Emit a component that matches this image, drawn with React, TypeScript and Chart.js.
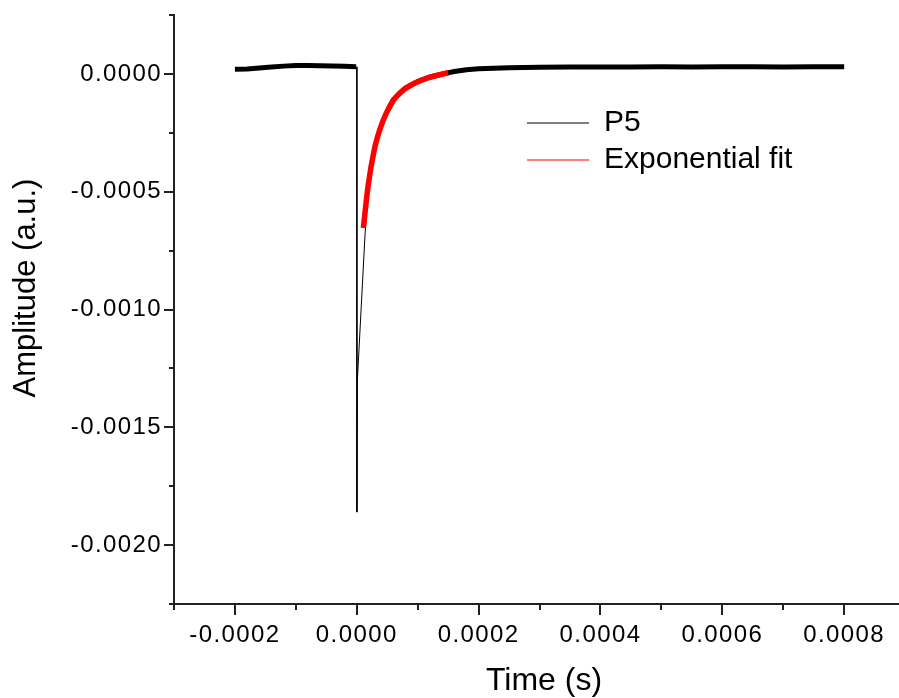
import React, { useEffect, useRef } from 'react';
import { Chart, registerables } from 'chart.js';

Chart.register(...registerables);

// ---- data ----
const seriesNames = ['P5', 'Exponential fit'];

const pTime = [
  -0.0002, -0.00018, -0.00016, -0.00014, -0.00012, -0.0001, -0.00008, -0.00006, -0.00004, -0.00002,
  -0.000001, 0.0, 0.0000002, 0.000001, 0.0000136, 0.00002, 0.00003, 0.00004, 0.00005, 0.00006,
  0.00008, 0.0001, 0.00012, 0.00014, 0.00016, 0.00018, 0.0002, 0.00025, 0.0003, 0.00035,
  0.0004, 0.00045, 0.0005, 0.00055, 0.0006, 0.00065, 0.0007, 0.00075, 0.0008,
];
const pAmp = [
  0.00002, 0.000021, 0.000025, 0.000029, 0.000033, 0.000036, 0.000036, 0.000035, 0.000034, 0.000032,
  0.00003, 0.00003, -0.00186, -0.0013, -0.00068, -0.00045, -0.00031, -0.00022, -0.00016, -0.00011,
  -0.00006, -0.000032, -0.000013, -0.000001, 0.00001, 0.000018, 0.000022, 0.000026, 0.000028, 0.000029,
  0.000029, 0.000029, 0.00003, 0.000029, 0.00003, 0.00003, 0.000029, 0.00003, 0.00003,
];

const fitTime = [
  0.0000108, 0.0000186, 0.0000284, 0.0000383, 0.0000481, 0.0000596, 0.0000711, 0.0000875,
  0.000104, 0.000124, 0.00015,
];
const fitAmp = [
  -0.000654, -0.000475, -0.000326, -0.000233, -0.000169, -0.000114, -0.00008, -0.00005,
  -0.000029, -0.000012, 0.000005,
];

const xTickValues = [-0.0003, -0.0002, -0.0001, 0, 0.0001, 0.0002, 0.0003, 0.0004, 0.0005, 0.0006, 0.0007, 0.0008];
const xTickLabels = ['', '-0.0002', '', '0.0000', '', '0.0002', '', '0.0004', '', '0.0006', '', '0.0008'];
const yTickValues = [-0.00225, -0.002, -0.00175, -0.0015, -0.00125, -0.001, -0.00075, -0.0005, -0.00025, 0, 0.00025];
const yTickLabels = ['', '-0.0020', '', '-0.0015', '', '-0.0010', '', '-0.0005', '', '0.0000', ''];

const xTitle = 'Time (s)';
const yTitle = 'Amplitude (a.u.)';

const FONT = '"Liberation Sans", Arial, Helvetica, sans-serif';

export default function App() {
  const ref = useRef<HTMLCanvasElement>(null);

  useEffect(() => {
    document.body.style.margin = '0';
    const canvas = ref.current;
    if (!canvas) return;

    const originAxes = {
      id: 'originAxes',
      beforeDraw(chart: any) {
        chart.ctx.letterSpacing = '0px';
      },
      afterLayout(chart: any) {
        const lg = chart.legend;
        if (lg) {
          const w = lg.width;
          const h = lg.height;
          lg.left = chart.chartArea.left + 346;
          lg.top = chart.chartArea.top + 86;
          lg.right = lg.left + w;
          lg.bottom = lg.top + h;
        }
      },
      afterDatasetsDraw(chart: any) {
        chart.ctx.letterSpacing = '1.4px';
      },
      afterDraw(chart: any) {
        const ctx = chart.ctx;
        ctx.letterSpacing = '0px';
        ctx.save();
        const xs = chart.scales.x;
        const ys = chart.scales.y;
        const area = chart.chartArea;
        ctx.strokeStyle = '#222';
        ctx.lineWidth = 2;
        ctx.beginPath();
        xTickValues.forEach((v, i) => {
          const px = Math.round(xs.getPixelForValue(v));
          const len = xTickLabels[i] ? 11 : 6;
          ctx.moveTo(px, area.bottom);
          ctx.lineTo(px, area.bottom + len);
        });
        yTickValues.forEach((v, i) => {
          const py = Math.round(ys.getPixelForValue(v));
          const len = yTickLabels[i] ? 10 : 5;
          ctx.moveTo(area.left, py);
          ctx.lineTo(area.left - len, py);
        });
        ctx.stroke();

        ctx.fillStyle = '#000';
        ctx.textAlign = 'center';
        ctx.textBaseline = 'alphabetic';
        ctx.font = `32px ${FONT}`;
        ctx.fillText(xTitle, 544, 690);
        ctx.translate(35, 288);
        ctx.rotate(-Math.PI / 2);
        ctx.font = `31px ${FONT}`;
        ctx.fillText(yTitle, 0, 0);
        ctx.restore();
      },
    };

    const chart = new Chart(canvas, {
      type: 'line',
      data: {
        datasets: [
          {
            label: seriesNames[0],
            data: pTime.map((t, i) => ({ x: t, y: pAmp[i] })),
            borderColor: '#000',
            backgroundColor: '#000',
            borderWidth: 5,
            pointRadius: 0,
            order: 1,
            segment: {
              borderWidth: (c: any) => {
                const dx = Math.abs(c.p1.x - c.p0.x);
                const dy = Math.abs(c.p1.y - c.p0.y);
                return dy > 2 * dx ? 1 : 5;
              },
            },
          } as any,
          {
            label: seriesNames[1],
            data: fitTime.map((t, i) => ({ x: t, y: fitAmp[i] })),
            borderColor: '#ff0000',
            backgroundColor: '#ff0000',
            borderWidth: 5.5,
            pointRadius: 0,
            cubicInterpolationMode: 'monotone',
            order: 0,
          },
        ],
      },
      options: {
        responsive: false,
        animation: false,
        devicePixelRatio: 1,
        layout: { padding: { top: 15, left: 0, right: 0, bottom: 0 }, autoPadding: false } as any,
        plugins: {
          tooltip: { enabled: false },
          legend: {
            position: 'chartArea' as any,
            align: 'start',
            labels: {
              usePointStyle: true,
              pointStyle: 'line',
              pointStyleWidth: 62,
              padding: 7,
              color: '#000',
              font: { family: FONT, size: 30 },
              sort: (a: any, b: any) => a.datasetIndex - b.datasetIndex,
              generateLabels: (ch: any) =>
                (Chart.defaults.plugins.legend.labels as any)
                  .generateLabels(ch)
                  .map((it: any) => ({ ...it, lineWidth: 1, pointStyle: 'line' })),
            },
          },
        },
        scales: {
          x: {
            type: 'linear',
            min: -0.0003,
            max: 0.00089,
            afterBuildTicks: (s: any) => {
              s.ticks = xTickValues.map((v) => ({ value: v }));
            },
            afterFit: (s: any) => {
              s.height = 94;
              s.paddingLeft = 0;
              s.paddingRight = 0;
            },
            grid: { display: true, drawOnChartArea: false, drawTicks: false },
            border: { display: true, color: '#222', width: 2 },
            ticks: {
              autoSkip: false,
              maxRotation: 0,
              minRotation: 0,
              padding: 17,
              z: 1,
              color: '#000',
              font: { family: FONT, size: 24 },
              callback: (_v: any, i: number) => xTickLabels[i],
            },
          },
          y: {
            type: 'linear',
            min: -0.00225,
            max: 0.00025,
            afterBuildTicks: (s: any) => {
              s.ticks = yTickValues.map((v) => ({ value: v }));
            },
            afterFit: (s: any) => {
              s.width = 174;
              s.paddingTop = 0;
              s.paddingBottom = 0;
            },
            grid: { display: true, drawOnChartArea: false, drawTicks: false },
            border: { display: true, color: '#222', width: 2 },
            ticks: {
              autoSkip: false,
              padding: 12,
              z: 1,
              color: '#000',
              font: { family: FONT, size: 24 },
              callback: (_v: any, i: number) => yTickLabels[i],
            },
          },
        },
      },
      plugins: [originAxes as any],
    });

    return () => chart.destroy();
  }, []);

  return <canvas ref={ref} width={899} height={698} style={{ display: 'block' }} />;
}
